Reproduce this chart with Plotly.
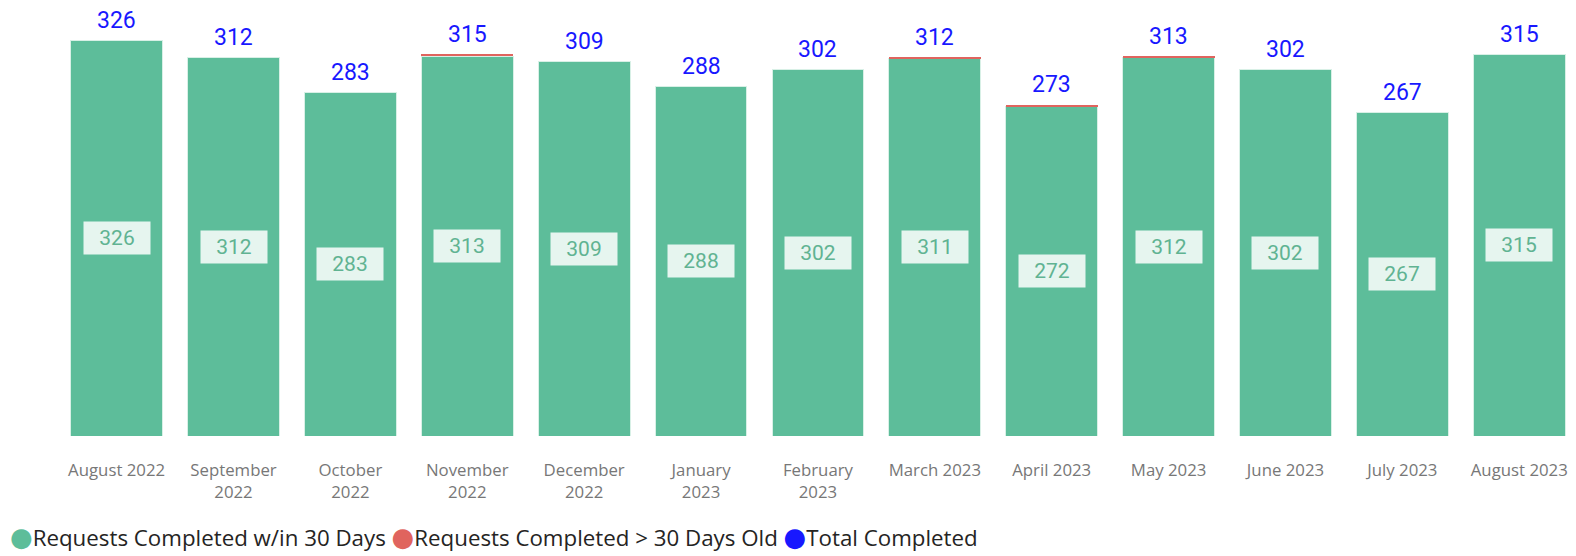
import plotly.graph_objects as go

months = ["August 2022", "September<br>2022", "October<br>2022", "November<br>2022",
          "December<br>2022", "January<br>2023", "February<br>2023", "March 2023",
          "April 2023", "May 2023", "June 2023", "July 2023", "August 2023"]
within_30 = [326, 312, 283, 313, 309, 288, 302, 311, 272, 312, 302, 267, 315]
over_30 = [0, 0, 0, 2, 0, 0, 0, 1, 1, 1, 0, 0, 0]
total = [326, 312, 283, 315, 309, 288, 302, 312, 273, 313, 302, 267, 315]
series_names = ["Requests Completed w/in 30 Days", "Requests Completed > 30 Days Old", "Total Completed"]

GREEN = "#5DBD9A"
RED = "#E0645E"
BLUE = "#1818FF"
series_colors = [GREEN, RED, BLUE]

fig = go.Figure()
fig.add_trace(go.Bar(x=months, y=within_30, name=series_names[0],
                     marker=dict(color=GREEN, line=dict(color="#D8F0E6", width=1)),
                     showlegend=False))
fig.add_trace(go.Bar(x=months, y=over_30, name=series_names[1],
                     marker=dict(color=RED, line=dict(width=0)),
                     showlegend=False))

for m, g, t in zip(months, within_30, total):
    fig.add_annotation(x=m, y=g / 2, text=str(g), showarrow=False,
                       font=dict(family="Roboto", size=21, color="#60B392"),
                       bgcolor="#E6F5EF", borderpad=5, width=56, height=22)
    fig.add_annotation(x=m, y=t, text=str(t), showarrow=False, yshift=20,
                       font=dict(family="Roboto", size=23, color=BLUE))

# legend row (bullets + names) as text
legend_parts = []
for name, col in zip(series_names, series_colors):
    legend_parts.append(
        f"<span style='color:{col};font-family:DejaVu Sans;font-size:26px'>●</span>{name}")
fig.add_annotation(xref="paper", yref="paper", x=-0.0331, y=-0.2394,
                   xanchor="left", yanchor="middle", showarrow=False,
                   text=" ".join(legend_parts),
                   font=dict(family="Open Sans", size=22.3, color="#252423"))

fig.update_layout(
    width=1560, height=548,
    barmode="stack", bargap=0.214,
    plot_bgcolor="white", paper_bgcolor="white",
    margin=dict(l=50, r=0, t=2, b=120),
    showlegend=False,
    xaxis=dict(tickfont=dict(family="Open Sans", size=16.8, color="#777777"),
               showgrid=False, zeroline=False, showline=False, ticks="",
               ticklabelstandoff=22, range=[-0.5015, 12.40]),
    yaxis=dict(range=[0, 351.3], visible=False),
)

fig.write_html("out.html")
